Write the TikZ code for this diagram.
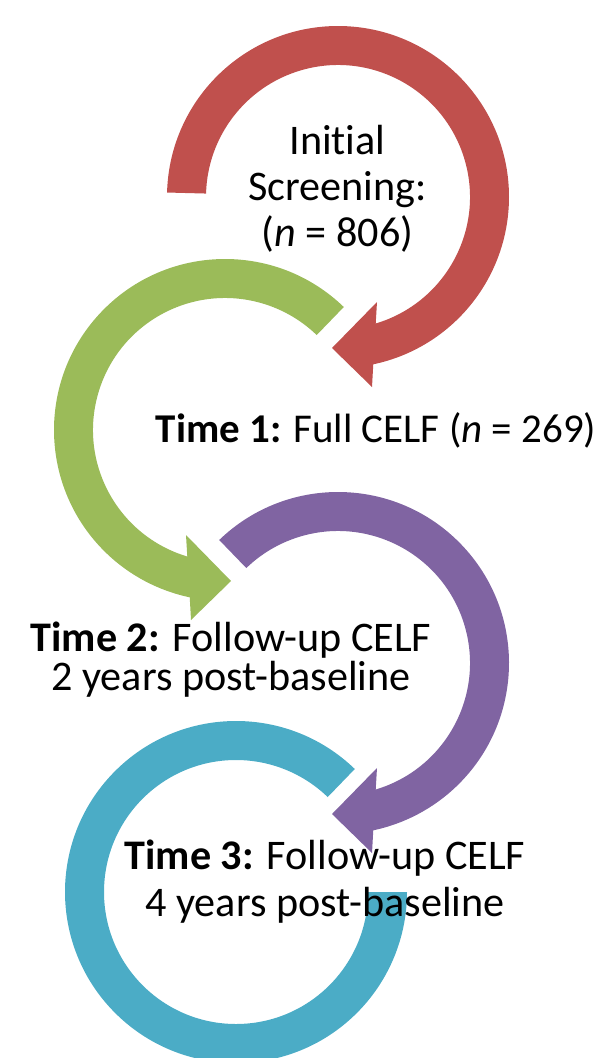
\documentclass[tikz,border=0pt]{standalone}
\usepackage{fontspec}
\setmainfont{Carlito}[Ligatures=NoCommon]
\definecolor{redarc}{HTML}{C0504D}
\definecolor{greenarc}{HTML}{9BBB59}
\definecolor{purplearc}{HTML}{8064A2}
\definecolor{bluearc}{HTML}{4BACC6}
\begin{document}
\begin{tikzpicture}[x=0.02cm,y=0.02cm,
	timetext/.style={align=center,inner sep=0pt,anchor=base,font=\fontsize{24}{#1}\selectfont}]
	\useasboundingbox (0,0) rectangle (601,-1058);
	% fleche rouge (centre 338,-197)
	\fill[redarc] ([shift={(338,-197)}]178.5:171) arc[start angle=178.5,end angle=-78.1,radius=171] -- (372,-387) -- (332,-348) -- (377,-302) -- ([shift={(338,-197)}]-73.4:132) arc[start angle=-73.4,end angle=178.5,radius=132] -- cycle;
	% fleche verte (centre 225,-430)
	\fill[greenarc] ([shift={(225,-430)}]46:171) arc[start angle=46,end angle=258.1,radius=171] -- (191,-620) -- (231,-581) -- (186,-535) -- ([shift={(225,-430)}]253.4:132) arc[start angle=253.4,end angle=46,radius=132] -- cycle;
	% fleche violette (centre 338,-663)
	\fill[purplearc] ([shift={(338,-663)}]134:171) arc[start angle=134,end angle=-78.1,radius=171] -- (372,-853) -- (332,-814) -- (377,-768) -- ([shift={(338,-663)}]-73.4:132) arc[start angle=-73.4,end angle=134,radius=132] -- cycle;
	% anneau bleu, sans pointe (centre 236,-892)
	\fill[bluearc] ([shift={(236,-892)}]46:171) arc[start angle=46,end angle=360,radius=171] -- ([shift={(236,-892)}]0:132) arc[start angle=360,end angle=46,radius=132] -- cycle;
	% les textes (ancre base = derniere ligne)
	\node[timetext=26.1pt] (screening) at (337.5,-246) {Initial\\Screening:\\(\textit{n} = 806)};
	\node[timetext=26.1pt,font=\fontsize{23.3}{26}\selectfont] (time1) at (376,-442) {\textbf{Time 1:} Full CELF (\textit{n} = 269)};
	\node[timetext=22.1pt] (time2) at (231,-690) {\textbf{Time 2:} Follow-up CELF\\2 years post-baseline};
	\node[timetext=26.6pt] (time3) at (325,-916) {\textbf{Time 3:} Follow-up CELF\\4 years post-baseline};
\end{tikzpicture}
\end{document}
